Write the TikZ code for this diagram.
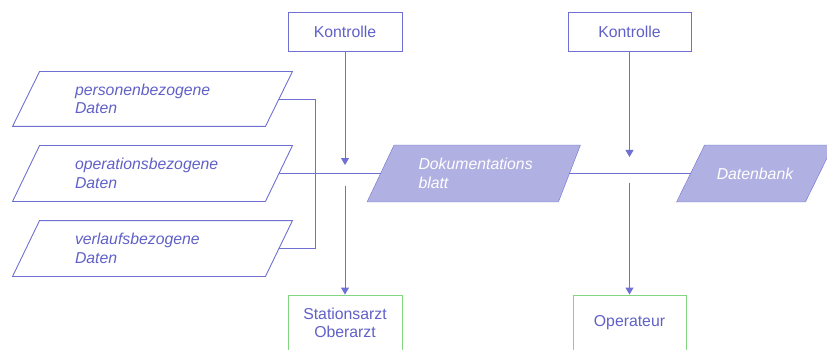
\documentclass[tikz,border=0pt]{standalone}
\usepackage{fontspec}
\setmainfont{Liberation Sans}
\usetikzlibrary{arrows.meta,backgrounds}
\definecolor{linec}{RGB}{112,112,210}
\definecolor{textc}{RGB}{96,96,200}
\definecolor{fillc}{RGB}{176,176,226}
\definecolor{greenc}{RGB}{130,214,130}
\begin{document}
\begin{tikzpicture}[x=1pt,y=-1pt,
  font=\fontsize{15.8}{18.5}\selectfont,
  line width=0.9pt,
  ctrlbox/.style={draw=linec, minimum height=39pt, text=textc, inner sep=0pt},
  rolebox/.style={draw=greenc, minimum height=56pt, text=textc, inner sep=0pt, align=center},
  shapebox/.style={rectangle, inner sep=0pt},
  datatext/.style={anchor=west, inner sep=0pt, align=left, text=textc, font=\fontsize{15.8}{18.5}\selectfont\itshape},
  doctext/.style={inner sep=0pt, align=left, text=white, font=\fontsize{15.8}{18.5}\selectfont\itshape},
  link/.style={draw=linec},
  arrow/.style={draw=linec, -{Triangle[length=7pt,width=8pt]}}]
\clip (0,0) rectangle (827,350);
\useasboundingbox (0,0) rectangle (827,350);

% control and role boxes
\node[ctrlbox, minimum width=114pt] (k1) at (345,31.5) {Kontrolle};
\node[ctrlbox, minimum width=123pt] (k2) at (629.5,31.5) {Kontrolle};
\node[rolebox, minimum width=114pt] (s) at (345,323) {Stationsarzt\\Oberarzt};
\node[rolebox, minimum width=113pt] (o) at (629.5,323) {Operateur};

% data inputs (parallelograms)
\node[shapebox, minimum width=252pt, minimum height=54pt] (d1) at (152.5,99) {};
\node[shapebox, minimum width=252pt, minimum height=55pt] (d2) at (152.5,173.5) {};
\node[shapebox, minimum width=252pt, minimum height=55pt] (d3) at (152.5,248.5) {};
\foreach \n in {d1,d2,d3}
  \draw[link] ([xshift=13.5pt]\n.north west) -- ([xshift=13.5pt]\n.north east)
    -- ([xshift=-13.5pt]\n.south east) -- ([xshift=-13.5pt]\n.south west) -- cycle;
\node[datatext] (t1) at ([xshift=48.5pt]d1.west) {personenbezogene\\Daten};
\node[datatext] (t2) at ([xshift=48.5pt]d2.west) {operationsbezogene\\Daten};
\node[datatext] (t3) at ([xshift=48.5pt]d3.west) {verlaufsbezogene\\Daten};

% documents
\node[shapebox, minimum width=188pt, minimum height=56pt] (dok) at (475,173.5) {};
\node[shapebox, minimum width=128pt, minimum height=56pt] (db) at (755,173.5) {};
\begin{scope}[on background layer]
  \draw[link, fill=fillc] ([xshift=13.5pt]dok.north west) -- ([xshift=11pt]dok.north east)
    -- ([xshift=-11pt]dok.south east) -- ([xshift=-13.5pt]dok.south west) -- cycle;
  \draw[link, fill=fillc] ([xshift=14pt]db.north west) -- ([xshift=14pt]db.north east)
    -- ([xshift=-14pt]db.south east) -- ([xshift=-14pt]db.south west) -- cycle;
\end{scope}
\node[doctext, anchor=west] (dokt) at ([xshift=37.5pt]dok.west) {Dokumentations\\blatt};
\node[doctext] (dbt) at (db.center) {Datenbank};

% data flow
\draw[link] (d1.east) -- ++(36.5,0) |- (d3.east);
\draw[link] (d2.east) -- (d2.east -| dok.west);
\draw[link] (dok.east) -- (db.west);

% control arrows and outputs
\coordinate (j1) at (k1.south |- dok.west);
\coordinate (j2) at (k2.south |- dok.west);
\draw[arrow, shorten >=8.5pt] (k1.south) -- (j1);
\draw[arrow] ([yshift=-12.5pt]j1) -- (s.north);
\draw[arrow, shorten >=16.5pt] (k2.south) -- (j2);
\draw[arrow] ([yshift=-9pt]j2) -- (o.north);
\end{tikzpicture}
\end{document}
